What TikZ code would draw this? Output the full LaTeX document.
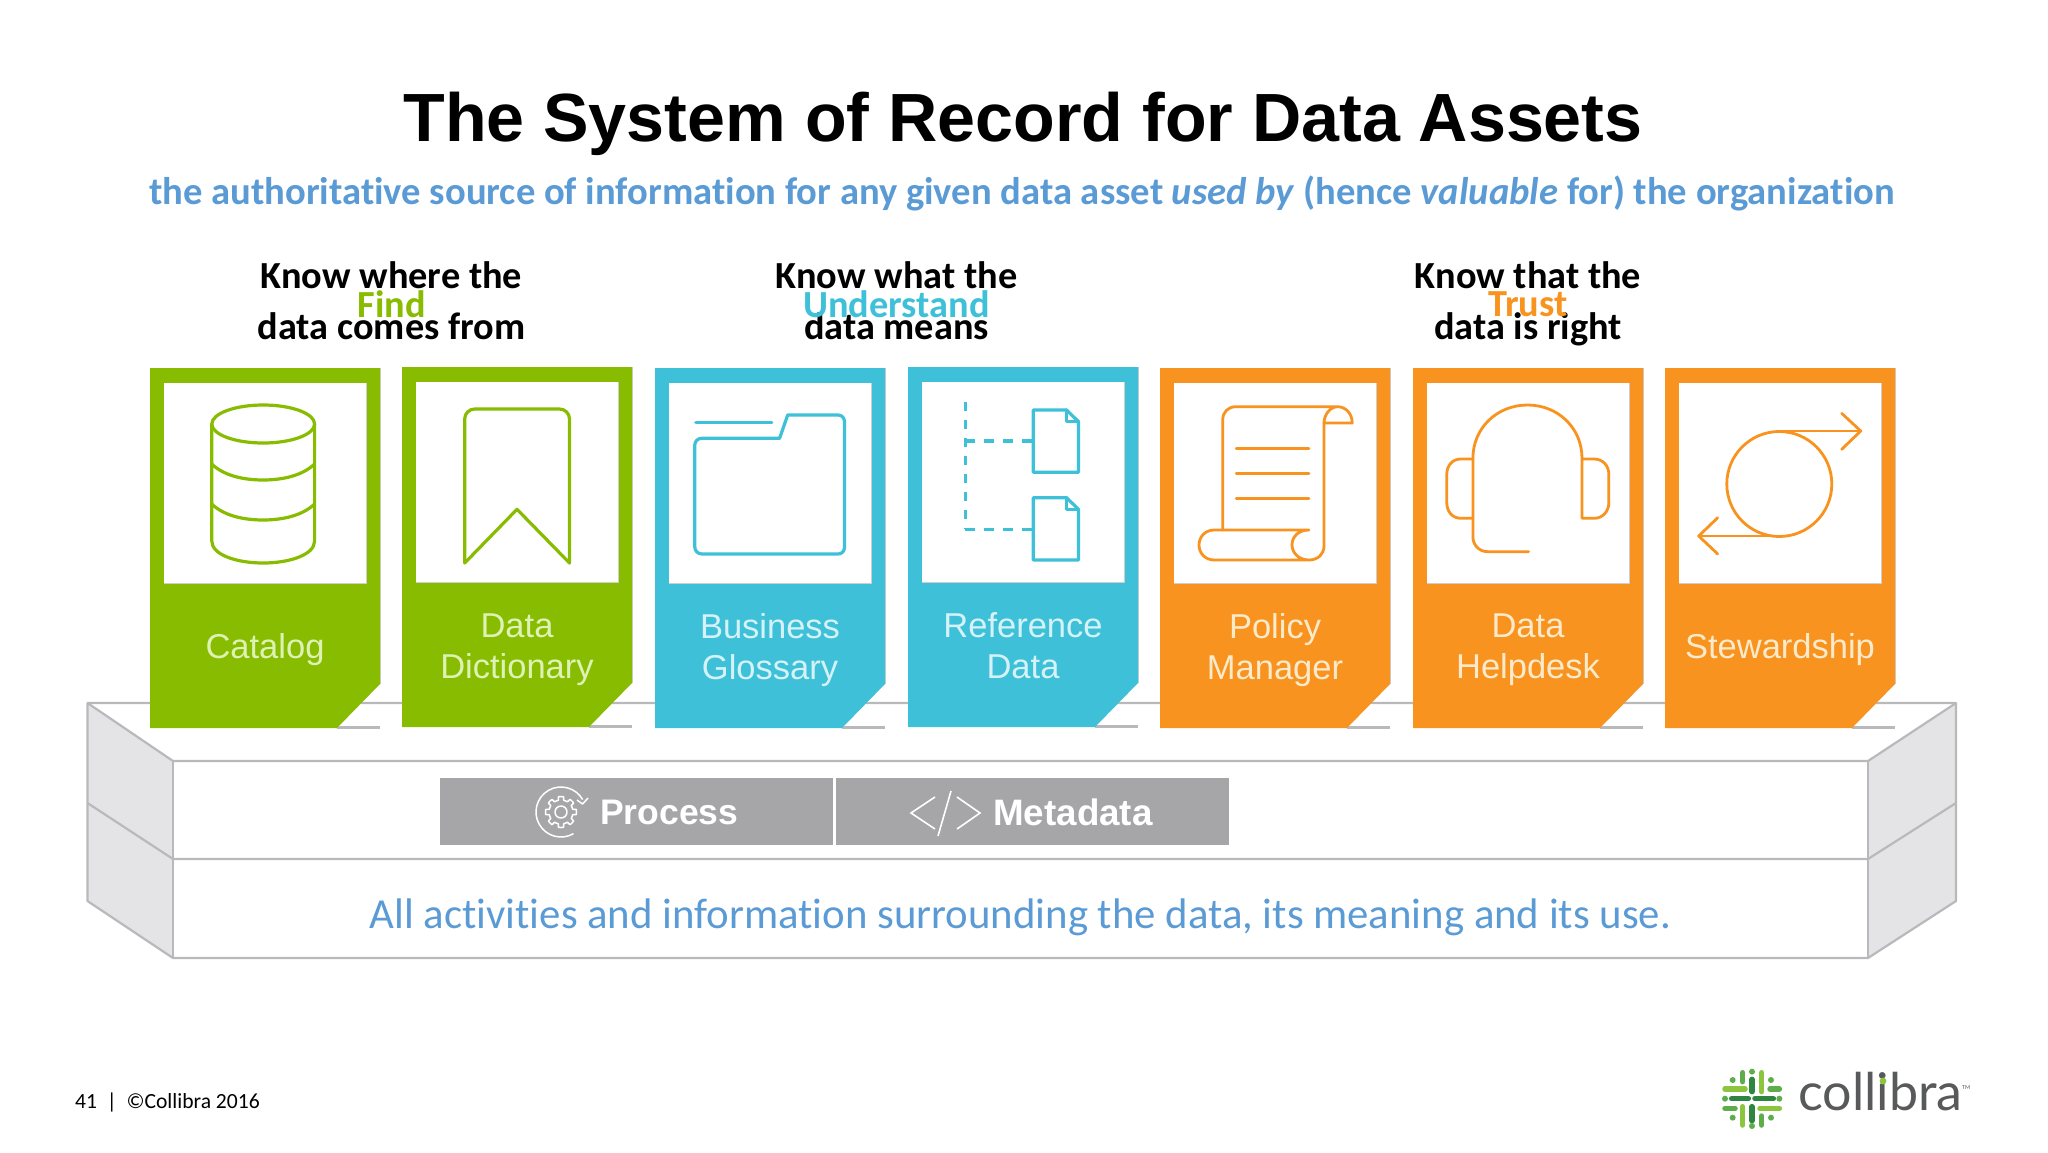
\documentclass[tikz,border=0pt]{standalone}
\usepackage{fontspec}
\setmainfont[Ligatures=NoCommon,RawFeature={-liga;-clig}]{Carlito}
\newfontfamily\arialf{Liberation Sans}
\newfontfamily\logof{Lato}
\definecolor{cgreen}{HTML}{88BC00}
\definecolor{ccyan}{HTML}{3EC1D8}
\definecolor{corange}{HTML}{F7931E}
\definecolor{tgreen}{HTML}{DFF2B5}
\definecolor{tcyan}{HTML}{D4F2F7}
\definecolor{torange}{HTML}{FCEACB}
\definecolor{cblue}{HTML}{5B9BD5}
\definecolor{cedge}{HTML}{B9B9BC}
\definecolor{cside}{HTML}{E4E4E6}
\definecolor{cgrey}{HTML}{A6A5A8}
\definecolor{lglight}{HTML}{8CC63F}
\definecolor{lgmid}{HTML}{5DAE4B}
\definecolor{lgdark}{HTML}{2E8540}
\definecolor{logotext}{HTML}{58595B}
\tikzset{
  x=1pt,y=-1pt,
  edge/.style={draw=cedge,line width=2.2pt,line join=round},
  icon/.style={line width=3.2pt,line cap=round,line join=round},
  cardtext/.style={align=center,inner sep=0pt,execute at end node={\rule[-8pt]{0pt}{8pt}},font=\arialf\fontsize{34.5}{41}\selectfont},
  headtext/.style={align=center,inner sep=0pt,text=black,execute at end node={\rule[-9pt]{0pt}{9pt}},font=\bfseries\fontsize{38.3}{51}\selectfont},
  tagtext/.style={inner sep=0pt,font=\bfseries\fontsize{38.3}{38}\selectfont},
  barlabel/.style={inner sep=0pt,text=white,anchor=west},
  lg/.style={line width=5.5pt,line cap=round},
}
\newcommand{\card}[6]{% x, colour, name, text colour, text, dy
  \fill[cedge] (#1+187,726+#6) rectangle (#1+230,729+#6);
  \fill[cedge!70] (#1+0.5,367.5+#6) rectangle (#1+230.7,684+#6);
  \fill[#2] (#1,368+#6) -- (#1+230,368+#6) -- (#1+230,684+#6) -- (#1+187,728+#6) -- (#1,728+#6) -- cycle;
  \fill[cedge!70] (#1+13.5,382.5+#6) rectangle (#1+216.5,583.5+#6);
  \fill[white] (#1+14,383+#6) rectangle (#1+216,583+#6);
  \node[cardtext,text=#4] (#3) at (#1+115,650) {#5};
}
\begin{document}
\begin{tikzpicture}
\useasboundingbox (0,0) rectangle (2048,1152);
\fill[white] (0,0) rectangle (2048,1152);
% title
\node[inner sep=0pt,text=black,font=\arialf\bfseries\fontsize{68.2}{68}\selectfont] (title) at (1023,124) {The System of Record for Data Assets};
\node[inner sep=0pt,text=cblue,font=\bfseries\fontsize{38.6}{39}\selectfont] (subtitle) at (1022,193) {the authoritative source of information for any given data asset \textit{used by} (hence \textit{valuable} for) the organization};
% platform
\fill[cside] (87.5,703) -- (173,761) -- (173,958) -- (87.5,901) -- cycle;
\fill[cside] (1956,703) -- (1868,761) -- (1868,958) -- (1956,901) -- cycle;
\draw[edge] (87.5,901) -- (87.5,703) -- (1956,703) -- (1956,901) -- (1868,958) -- (173,958) -- cycle;
\draw[edge] (87.5,703) -- (173,761) -- (1868,761) -- (1956,703);
\draw[edge] (173,761) -- (173,958);
\draw[edge] (1868,761) -- (1868,958);
\draw[edge] (87.5,803) -- (173,859) -- (1868,859) -- (1956,803);
% cards
\card{150}{cgreen}{catalog}{tgreen}{Catalog}{0}
\card{402}{cgreen}{dict}{tgreen}{Data\\Dictionary}{-1}
\card{655}{ccyan}{gloss}{tcyan}{Business\\Glossary}{0}
\card{908}{ccyan}{refdata}{tcyan}{Reference\\Data}{-1}
\card{1160}{corange}{policy}{torange}{Policy\\Manager}{0}
\card{1413}{corange}{helpdesk}{torange}{Data\\Helpdesk}{0}
\card{1665}{corange}{steward}{torange}{Stewardship}{0}
% headers
\node[headtext] (h1) at (391.5,305) {Know where the\\data comes from};
\node[tagtext,text=cgreen] (t1) at (391.5,304) {Find};
\node[headtext] (h2) at (896.5,305) {Know what the\\data means};
\node[tagtext,text=ccyan] (t2) at (896.5,304) {Understand};
\node[headtext] (h3) at (1528,305) {Know that the\\data is right};
\node[tagtext,text=corange] (t3) at (1528,304) {Trust};
% catalog icon
\begin{scope}[icon,draw=cgreen]
\draw (263.2,424) ellipse [x radius=51.4,y radius=19];
\draw (211.8,424) -- (211.8,541) .. controls (211.8,555) and (237,563) .. (263.2,563) .. controls (289,563) and (314.6,555) .. (314.6,541) -- (314.6,424);
\draw (211.8,464) .. controls (223,475) and (242,480) .. (263.2,480) .. controls (284,480) and (303,475) .. (314.6,464);
\draw (211.8,504) .. controls (223,515) and (242,520) .. (263.2,520) .. controls (284,520) and (303,515) .. (314.6,504);
% bookmark
\draw[rounded corners=10pt] (464.7,563) -- (464.7,409) -- (569.5,409) -- (569.5,563);
\draw (464.7,563) -- (517,509.3) -- (569.5,563);
\end{scope}
% folder
\begin{scope}[icon,draw=ccyan]
\draw (695.8,422.3) -- (771.8,422.3);
\draw (702,438.3) -- (779.6,438.3) -- (787.7,415) -- (838,415) .. controls (842,415) and (844.5,418) .. (844.5,422) -- (844.5,547) .. controls (844.5,551) and (842,554) .. (838,554) -- (702,554) .. controls (698,554) and (694.8,551) .. (694.8,547) -- (694.8,445) .. controls (694.8,441) and (698,438.3) .. (702,438.3) -- cycle;
% reference data
\draw[line cap=butt,dash pattern=on 9pt off 9pt] (965.2,401.7) -- (965.2,529.3);
\draw[line cap=butt,dash pattern=on 10pt off 9pt] (965.2,441) -- (1031.5,441);
\draw[line cap=butt,dash pattern=on 10pt off 9pt] (965.2,529.3) -- (1031.5,529.3);
\foreach \dy in {0,87.7}{
\draw (1033.2,410+\dy) -- (1066.6,410+\dy) -- (1078.5,421.7+\dy) -- (1078.5,472.3+\dy) -- (1033.2,472.3+\dy) -- cycle;
\draw (1066.6,410+\dy) -- (1066.6,421.7+\dy) -- (1078.5,421.7+\dy);
}
\end{scope}
% scroll
\begin{scope}[icon,line width=2.8pt,draw=corange]
\draw (1222.7,530) -- (1222.7,420) .. controls (1222.7,412) and (1228,406.7) .. (1236,406.7) -- (1337.6,406.7) .. controls (1346,406.7) and (1352.2,414) .. (1352.2,423) -- (1324,423) .. controls (1324,415) and (1330,406.7) .. (1337.6,406.7);
\draw (1324,423) -- (1324,546) .. controls (1324,554) and (1318,560) .. (1309,560) -- (1214.2,560) .. controls (1205,560) and (1199,553) .. (1199,545) .. controls (1199,537) and (1205,530) .. (1214.2,530) -- (1309,530) .. controls (1298,530) and (1292,537) .. (1292,545) .. controls (1292,552) and (1298,560) .. (1309,560);
\draw (1236.2,448.3) -- (1308.9,448.3);
\draw (1236.2,473.3) -- (1308.9,473.3);
\draw (1236.2,498.7) -- (1308.9,498.7);
% headset
\draw (1528.6,551.7) -- (1488,551.7) .. controls (1479,551.7) and (1472.9,545) .. (1472.9,536.7) -- (1472.9,458.3) .. controls (1472.9,428) and (1497,405) .. (1527.6,405) .. controls (1558,405) and (1582,428) .. (1582,458.3) -- (1582,518.3) -- (1594,518.3) .. controls (1603,518.3) and (1608.8,511) .. (1608.8,503) -- (1608.8,474) .. controls (1608.8,466) and (1603,459) .. (1594,459) -- (1582,459);
\draw (1472.9,459) -- (1461,459) .. controls (1452,459) and (1446.8,466) .. (1446.8,474) -- (1446.8,503) .. controls (1446.8,511) and (1452,518.3) .. (1461,518.3) -- (1472.9,518.3);
% stewardship
\draw (1779.3,484) circle (52.5);
\draw (1779.3,431) -- (1860.7,431);
\draw (1841.7,413.3) -- (1860.7,431) -- (1841.7,449.3);
\draw (1779.3,536) -- (1698.7,536);
\draw (1717.7,517.7) -- (1698.7,536) -- (1717.7,554);
\end{scope}
% process / metadata
\fill[cgrey] (440,778) rectangle (833,845);
\fill[cgrey] (836,778) rectangle (1229,845);
\node[barlabel,font=\arialf\bfseries\fontsize{35.5}{36}\selectfont] (proc) at (600,812) {Process};
\node[barlabel,font=\arialf\bfseries\fontsize{36.8}{37}\selectfont] (meta) at (993,812) {Metadata};
\draw[white,line width=1.6pt] (935,797) -- (911,813) -- (935,829);
\draw[white,line width=1.6pt] (957,797) -- (980,813) -- (957,829);
\draw[white,line width=1.6pt] (951,791) -- (938,836);
% gear
\begin{scope}[shift={(561,812)},white,line width=1.5pt,line join=round]
\draw (0,0) circle (6);
\draw plot[samples=113,domain=0:360,variable=\t] (\t:{(cos(8*\t)>0)?15.5:12});
\draw (-30:25) arc[start angle=-30,end angle=-300,radius=25];
\draw (16,-12) -- (21.6,-8) -- (27,-14);
\end{scope}
% foundation text
\node[inner sep=0pt,text=cblue,font=\fontsize{42.8}{43}\selectfont] (found) at (1020.5,917.5) {All activities and information surrounding the data, its meaning and its use.};
% footer
\node[inner sep=0pt,anchor=west,text=black,font=\fontsize{21.6}{22}\selectfont] (foot) at (75,1102) {41\ \ |\ \ ©Collibra 2016};
% logo
\node[inner sep=0pt,anchor=base west,text=logotext,font=\logof\fontsize{52}{52}\selectfont] (logo) at (1798,1110) {collibra};
\node[inner sep=0pt,anchor=west,text=logotext,font=\fontsize{6}{6}\selectfont] (tm) at (1962,1088) {TM};
\fill[lglight] (1883,1081) circle (3.4pt);
\begin{scope}[shift={(1700,1050)},x=0.3333pt,y=-0.3333pt,lg]
\draw[lglight] (75,117) -- (135,117);
\draw[lgmid] (210,117) -- (238,117);
\draw[lgdark] (95,146) -- (145,146);
\draw[lgdark] (165,146) -- (220,146);
\draw[lgmid] (75,175) -- (105,175);
\draw[lglight] (180,175) -- (238,175);
\draw[lgmid] (128,68) -- (128,95);
\draw[lglight] (128,170) -- (128,225);
\draw[lgdark] (156,88) -- (156,125);
\draw[lgdark] (156,170) -- (156,212);
\draw[lglight] (185,68) -- (185,125);
\draw[lgmid] (185,198) -- (185,225);
\foreach \px/\py in {98/90,213/90,98/203,213/203,75/146,238/146,156/65,156/228}
  \fill[lgmid] (\px,\py) circle (3pt);
\end{scope}
\end{tikzpicture}
\end{document}
